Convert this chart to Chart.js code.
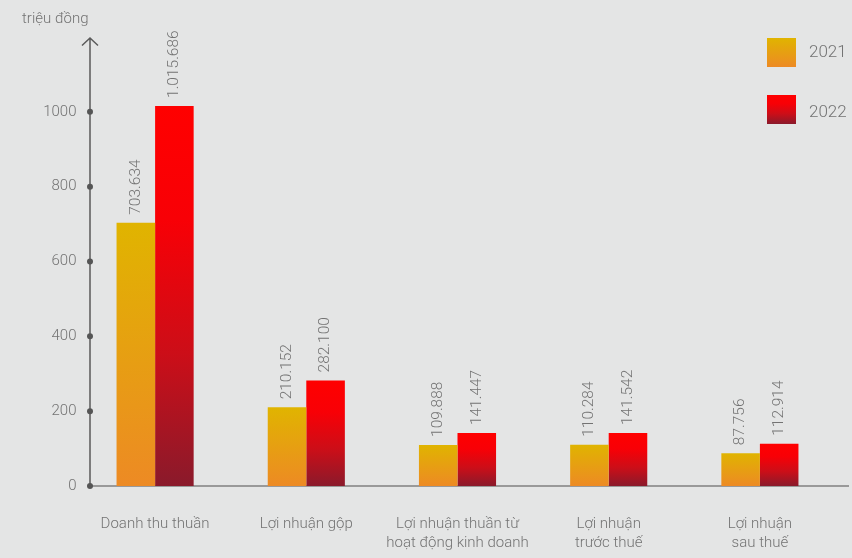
<!DOCTYPE html>
<html>
<head>
<meta charset="utf-8">
<script src="https://cdn.jsdelivr.net/npm/chart.js@4"></script>
<style>
  html, body { margin: 0; padding: 0; background: #e4e5e5; }
  #wrap { width: 852px; height: 558px; }
</style>
</head>
<body>
<div id="wrap"><canvas id="chart" width="852" height="558"></canvas></div>
<script>
// số liệu (triệu đồng)
const categories = [
    "Doanh thu thuần",
    "Lợi nhuận gộp",
    ["Lợi nhuận thuần từ", "hoạt động kinh doanh"],
    ["Lợi nhuận", "trước thuế"],
    ["Lợi nhuận", "sau thuế"]
];
const years = ["2021", "2022"];
const values2021 = [703.634, 210.152, 109.888, 110.284, 87.756];
const values2022 = [1015.686, 282.100, 141.447, 141.542, 112.914];
const yTicks = [0, 200, 400, 600, 800, 1000];
const unitLabel = "triệu đồng";

const FONT = "Roboto";
const TEXT = "#737373";

const stops = {
    "2021": [[0, "#e0b400"], [1, "#ed8a24"]],
    "2022": [[0, "#ff0000"], [0.3, "#f80006"], [0.65, "#cc0e18"], [1, "#8a1a2b"]]
};

function grad(ctx, top, bottom, key) {
    const g = ctx.createLinearGradient(0, top, 0, bottom);
    stops[key].forEach(s => g.addColorStop(s[0], s[1]));
    return g;
}

function barColor(key) {
    return function (c) {
        const chart = c.chart;
        if (!chart.chartArea || c.raw == null) return stops[key][0][1];
        const y = chart.scales.y;
        return grad(chart.ctx, y.getPixelForValue(c.raw), y.getPixelForValue(0), key);
    };
}

function fmt(v) {
    return String(Math.round(v * 1000)).replace(/\B(?=(\d{3})+(?!\d))/g, ".");
}

// trục, nhãn giá trị, chú thích
const decor = {
    id: "decor",
    beforeDatasetsDraw(chart) {
        const ctx = chart.ctx;
        const y = chart.scales.y;
        const ax = 90;
        const base = y.getPixelForValue(0);
        ctx.save();
        // trục x
        ctx.strokeStyle = "#999";
        ctx.lineWidth = 2;
        ctx.beginPath();
        ctx.moveTo(ax, base);
        ctx.lineTo(849, base);
        ctx.stroke();
        // trục y + mũi tên
        ctx.strokeStyle = "#5a5a5a";
        ctx.lineWidth = 1.5;
        ctx.beginPath();
        ctx.moveTo(ax, base);
        ctx.lineTo(ax, chart.chartArea.top + 1);
        ctx.moveTo(ax - 8, chart.chartArea.top + 8.5);
        ctx.lineTo(ax, chart.chartArea.top + 1);
        ctx.lineTo(ax + 8, chart.chartArea.top + 8.5);
        ctx.stroke();
        ctx.fillStyle = "#555";
        yTicks.forEach(t => {
            ctx.beginPath();
            ctx.arc(ax, y.getPixelForValue(t), 3, 0, Math.PI * 2);
            ctx.fill();
        });
        // đơn vị
        ctx.fillStyle = TEXT;
        ctx.font = "300 15px " + FONT;
        ctx.textAlign = "left";
        ctx.textBaseline = "middle";
        ctx.fillText(unitLabel, 22, 19);
        ctx.restore();
    },
    afterDatasetsDraw(chart) {
        const ctx = chart.ctx;
        ctx.save();
        ctx.fillStyle = TEXT;
        ctx.font = "300 15.5px " + FONT;
        ctx.textAlign = "left";
        ctx.textBaseline = "middle";
        chart.data.datasets.forEach((ds, i) => {
            chart.getDatasetMeta(i).data.forEach((el, j) => {
                ctx.save();
                ctx.translate(el.x, el.y - 8);
                ctx.rotate(-Math.PI / 2);
                ctx.fillText(fmt(ds.data[j]), 0, 0);
                ctx.restore();
            });
        });
        // chú thích
        const boxes = [[767, 38], [767, 95]];
        ctx.font = "300 17px " + FONT;
        years.forEach((yr, i) => {
            const [bx, by] = boxes[i];
            ctx.fillStyle = grad(ctx, by, by + 29, yr);
            ctx.fillRect(bx, by, 29, 29);
            ctx.fillStyle = TEXT;
            ctx.fillText(yr, 809, by + 15 + (i ? 3 : 0));
        });
        ctx.restore();
    }
};

new Chart(document.getElementById("chart"), {
    type: "bar",
    data: {
        labels: categories,
        datasets: [
            { label: years[0], data: values2021, backgroundColor: barColor("2021") },
            { label: years[1], data: values2022, backgroundColor: barColor("2022") }
        ]
    },
    options: {
        responsive: false,
        animation: false,
        layout: { padding: { top: 37, right: 16.5, left: 0, bottom: 0 } },
        datasets: { bar: { barPercentage: 1, categoryPercentage: 0.51 } },
        plugins: { legend: { display: false }, tooltip: { enabled: false } },
        scales: {
            x: {
                grid: { display: false, drawTicks: false },
                border: { display: false },
                ticks: {
                    color: TEXT,
                    padding: 28,
                    maxRotation: 0,
                    autoSkip: false,
                    font: { family: FONT, size: 15, weight: 300, lineHeight: 1.3 }
                },
                afterFit(s) { s.height = 72; }
            },
            y: {
                min: 0,
                max: 1200,
                grid: { display: false, drawTicks: false },
                border: { display: false },
                ticks: {
                    stepSize: 200,
                    padding: 3,
                    color: TEXT,
                    font: { family: FONT, size: 15, weight: 300 },
                    callback: v => yTicks.includes(v) ? v : ""
                },
                afterFit(s) { s.width = 79.5; }
            }
        }
    },
    plugins: [decor]
});
</script>
</body>
</html>
